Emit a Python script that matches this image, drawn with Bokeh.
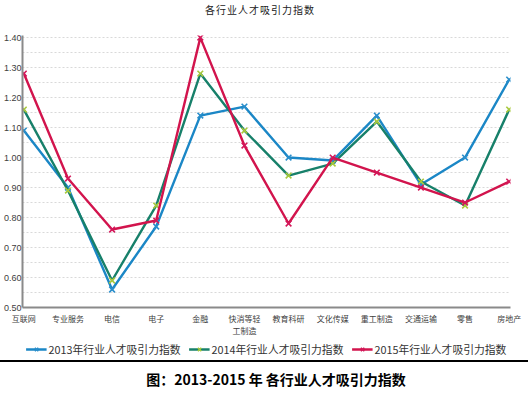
from bokeh.plotting import figure
from bokeh.models import Range1d, FixedTicker, Legend, LegendItem, Div, NumeralTickFormatter
from bokeh.layouts import column
from bokeh.embed import file_html
from bokeh.resources import INLINE

title_text = "各行业人才吸引力指数"
caption_text = "图：2013-2015 年 各行业人才吸引力指数"
categories = ["互联网", "专业服务", "电信", "电子", "金融", "快消等轻\n工制造",
              "教育科研", "文化传媒", "重工制造", "交通运输", "零售", "房地产"]
names = ["2013年行业人才吸引力指数", "2014年行业人才吸引力指数", "2015年行业人才吸引力指数"]
y2013 = [1.09, 0.90, 0.56, 0.77, 1.14, 1.17, 1.00, 0.99, 1.14, 0.91, 1.00, 1.26]
y2014 = [1.16, 0.89, 0.59, 0.84, 1.28, 1.09, 0.94, 0.98, 1.12, 0.92, 0.84, 1.16]
y2015 = [1.28, 0.93, 0.76, 0.79, 1.40, 1.04, 0.78, 1.00, 0.95, 0.90, 0.85, 0.92]
y_ticks = [0.50, 0.60, 0.70, 0.80, 0.90, 1.00, 1.10, 1.20, 1.30, 1.40]

line_colors = ["#1B87C6", "#17806A", "#D2144D"]
marker_colors = ["#2A8ECB", "#A8C93C", "#D3185A"]
line_w = 2.4
marker_size = 8
marker_w = 1.6

xs = list(range(len(categories)))

head = Div(text=f'<div style="width:520px; text-align:center; font-family:\'Noto Sans CJK SC\'; '
                f'font-size:10px; color:#222; letter-spacing:1px; line-height:20px;">{title_text}</div>',
           width=528, height=20, margin=0)

p = figure(width=528, height=318, output_backend="svg", toolbar_location=None,
           x_range=Range1d(-0.03, len(categories) - 1 + 0.03),
           y_range=Range1d(y_ticks[0], y_ticks[-1] + 0.007),
           min_border_left=0, min_border_right=18, min_border_top=15, min_border_bottom=20)
p.outline_line_color = None
p.background_fill_color = "white"
p.border_fill_color = "white"

# grid
half_steps = []
for i in range(len(y_ticks) - 1):
    half_steps.append((y_ticks[i] + y_ticks[i + 1]) / 2)
    half_steps.append(y_ticks[i + 1])
p.xgrid.visible = False
p.ygrid.ticker = FixedTicker(ticks=half_steps)
p.ygrid.grid_line_color = "#d9d9d9"
p.ygrid.grid_line_dash = "2 2"

# axes
p.yaxis.ticker = FixedTicker(ticks=y_ticks)
p.yaxis.formatter = NumeralTickFormatter(format="0.00")
p.xaxis.ticker = FixedTicker(ticks=xs)
p.xaxis.major_label_overrides = {i: c for i, c in zip(xs, categories)}
for ax in (p.xaxis, p.yaxis):
    ax.axis_line_color = "#8a8a8a"
    ax.axis_line_width = 2
    ax.major_tick_line_color = None
    ax.minor_tick_line_color = None
    ax.major_tick_out = 0
    ax.major_tick_in = 0
    ax.minor_tick_out = 0
    ax.minor_tick_in = 0
    ax.major_label_text_color = "#404040"
p.yaxis.major_label_text_font = "Liberation Sans"
p.yaxis.major_label_text_font_size = "9px"
p.yaxis.major_label_standoff = 1
p.xaxis.major_label_text_font = "Noto Sans CJK SC"
p.xaxis.major_label_text_font_size = "8px"
p.xaxis.major_label_text_line_height = 1.1
p.xaxis.major_label_standoff = 5

for ys, lc, mc in zip([y2013, y2014, y2015], line_colors, marker_colors):
    p.line(xs, ys, line_color=lc, line_width=line_w)
    p.scatter(xs, ys, marker="x", size=marker_size, line_color=mc, line_width=marker_w)

# legend strip (separate small figure so the legend is not clipped)
lg = figure(width=528, height=22, output_backend="svg", toolbar_location=None,
            x_range=Range1d(0, 1), y_range=Range1d(0, 1),
            min_border_left=0, min_border_right=0, min_border_top=0, min_border_bottom=0)
lg.axis.visible = False
lg.grid.visible = False
lg.outline_line_color = None
items = []
for name, lc, mc in zip(names, line_colors, marker_colors):
    lr = lg.line(x=[-5, -4], y=[-5, -4], line_color=lc, line_width=line_w)
    sr = lg.scatter(x=[-5], y=[-5], marker="x", size=marker_size, line_color=mc, line_width=marker_w)
    items.append(LegendItem(label=name, renderers=[lr, sr]))
legend = Legend(items=items, orientation="horizontal", location="center",
                label_text_font="Noto Sans CJK SC", label_text_font_size="10.8px",
                label_text_color="#333333", glyph_width=21, glyph_height=12,
                label_standoff=2, spacing=8, padding=0, margin=0,
                border_line_color=None, background_fill_alpha=0)
lg.add_layout(legend)

cap = Div(text=f'<div style="border-top:2px solid #000; width:528px; text-align:center; '
               f'font-family:\'Noto Sans CJK SC\'; font-weight:bold; font-size:14px; '
               f'color:#000; padding-top:8px; padding-left:24px; box-sizing:border-box; '
               f'line-height:18px;">{caption_text}</div>',
          width=528, height=34, margin=0)

layout = column(head, p, lg, cap, spacing=0)
open("out.html", "w").write(file_html(layout, INLINE))
